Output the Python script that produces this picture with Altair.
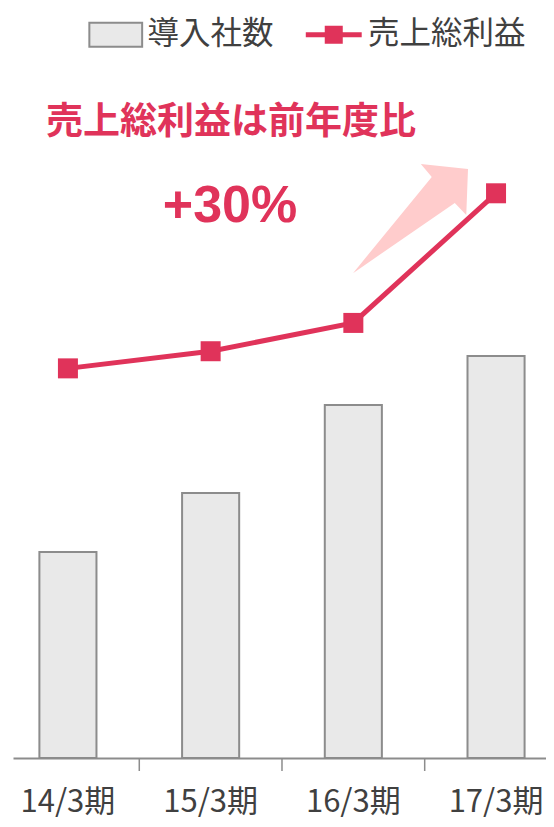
import altair as alt
import pandas as pd

categories = ["14/3期", "15/3期", "16/3期", "17/3期"]
companies = [276.5, 355.7, 473.8, 539.6]      # 導入社数 (bar heights, relative)
gross_profit = [52.3, 54.6, 58.4, 75.8]        # 売上総利益 (relative)
series_names = ["導入社数", "売上総利益"]
headline = "売上総利益は前年度比"
growth = "+30%"

RED = "#E0335A"
BAR_FILL = "#E9E9E9"
GREY = "#8C8C8C"
TEXT = "#404040"
CJK = "Noto Sans CJK JP"

W, H = 533, 745
P_IN, P_OUT, ALIGN = 0.6, 0.1675, 0.552
STEP = W / (len(categories) - P_IN + 2 * P_OUT)

bars_df = pd.DataFrame({"cat": categories, "v": companies, "series": series_names[0]})
line_df = pd.DataFrame({"cat": categories, "v": gross_profit, "series": series_names[1]})
tick_df = pd.DataFrame({"cat": categories[:-1]})

xscale = alt.Scale(domain=categories, paddingInner=P_IN, paddingOuter=P_OUT, align=ALIGN)
yb = alt.Scale(domain=[0, 1000], nice=False)
yl = alt.Scale(domain=[0, 100], nice=False)

common_leg = dict(
    title=None, orient="none", direction="horizontal", padding=0,
    symbolSize=576, labelFont=CJK, labelFontSize=31.5,
    labelColor=TEXT, labelLimit=400,
)

bar_legend = alt.Legend(
    legendX=87, legendY=6, labelOffset=16,
    symbolType="M-2.2,-1H2.2V1H-2.2Z",
    symbolStrokeColor=GREY, symbolStrokeWidth=2, symbolFillColor=BAR_FILL,
    **common_leg,
)
line_legend = alt.Legend(
    legendX=305, legendY=6, labelOffset=18.5,
    symbolType="M-2.33,-0.21H-0.75V-0.75H0.75V-0.21H2.33V0.21H0.75V0.75H-0.75V0.21H-2.33Z",
    symbolStrokeWidth=0,
    **common_leg,
)

x_axis = alt.Axis(
    title=None, labelAngle=0, ticks=False, domain=True, domainColor=GREY, domainWidth=2,
    labelFont=CJK, labelFontSize=31, labelColor=TEXT, labelPadding=29, labelLimit=200,
)

X = alt.X("cat:N", scale=xscale, axis=x_axis, sort=None)

bars = alt.Chart(bars_df).mark_bar(stroke=GREY, strokeWidth=2).encode(
    x=X,
    y=alt.Y("v:Q", scale=yb, axis=None),
    fill=alt.Fill("series:N", scale=alt.Scale(domain=[series_names[0]], range=[BAR_FILL]), legend=bar_legend),
)

ticks = alt.Chart(tick_df).mark_rule(color=GREY, strokeWidth=1.5, xOffset=STEP / 2).encode(
    x=X,
    y=alt.value(H),
    y2=alt.value(H + 13),
)

arrow_path = "M-1,0.95L0.37,-0.72L0.18,-0.95L1,-0.86L0.97,-0.06L0.77,-0.27Z"
arrow = alt.Chart(pd.DataFrame({"a": [1]})).mark_point(
    shape=arrow_path, size=13225, filled=True, fill="#FFCCCC", strokeWidth=0, opacity=1
).encode(x=alt.value(397.5), y=alt.value(205.5))

line = alt.Chart(line_df).mark_line(strokeWidth=5, color=RED).encode(
    x=X,
    y=alt.Y("v:Q", scale=yl, axis=None),
)

points = alt.Chart(line_df).mark_square(size=400, opacity=1, filled=True).encode(
    x=X,
    y=alt.Y("v:Q", scale=yl, axis=None),
    color=alt.Color("series:N", scale=alt.Scale(domain=[series_names[1]], range=[RED]), legend=line_legend),
)

title_txt = alt.Chart(pd.DataFrame({"t": [headline]})).mark_text(
    font=CJK, fontSize=37, fontWeight="bold", color=RED, align="left", baseline="middle"
).encode(text="t:N", x=alt.value(33), y=alt.value(110))

growth_txt = alt.Chart(pd.DataFrame({"t": [growth]})).mark_text(
    font="Liberation Sans", fontSize=52, fontWeight="bold", color=RED, align="center", baseline="middle"
).encode(text="t:N", x=alt.value(217), y=alt.value(193))

bars_layer = alt.layer(bars, ticks)
line_layer = alt.layer(line, points)

chart = (
    alt.layer(bars_layer, arrow, line_layer, title_txt, growth_txt)
    .resolve_scale(y="independent")
    .properties(width=W, height=H, padding={"left": 5, "top": 5, "right": 0, "bottom": 0})
    .configure_view(stroke=None)
)

chart.save("out.html", embed_options={"renderer": "svg", "actions": False})
